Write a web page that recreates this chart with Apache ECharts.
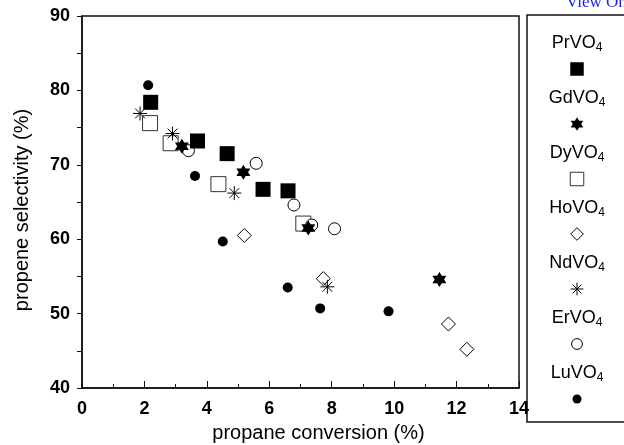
<!DOCTYPE html>
<html>
<head>
<meta charset="utf-8">
<script src="https://cdn.jsdelivr.net/npm/echarts@6/dist/echarts.min.js"></script>
<style>
  html, body { margin: 0; padding: 0; background: #fff; }
  #chart { width: 624px; height: 445px; }
</style>
</head>
<body>
<div id="chart"></div>
<script>
// propane conversion (%) / propene selectivity (%) pairs
const prvo4 = [[2.2, 78.4], [3.7, 73.2], [4.65, 71.5], [5.8, 66.7], [6.6, 66.5]];
const gdvo4 = [[3.2, 72.5], [5.17, 69.0], [7.25, 61.5], [11.45, 54.6]];
const dyvo4 = [[2.18, 75.6], [2.84, 72.9], [4.37, 67.4], [7.09, 62.1]];
const hovo4 = [[5.2, 60.5], [7.73, 54.7], [11.74, 48.6], [12.33, 45.2]];
const ndvo4 = [[1.86, 76.9], [2.9, 74.2], [4.88, 66.2], [7.86, 53.6]];
const ervo4 = [[3.41, 71.9], [5.58, 70.2], [6.79, 64.6], [7.36, 61.9], [8.09, 61.4]];
const luvo4 = [[2.12, 80.7], [3.62, 68.5], [4.51, 59.7], [6.59, 53.5], [7.63, 50.7], [9.82, 50.3]];

const legendNames = ["PrVO", "GdVO", "DyVO", "HoVO", "NdVO", "ErVO", "LuVO"];
const xTicks = [0, 2, 4, 6, 8, 10, 12, 14];
const yTicks = [40, 50, 60, 70, 80, 90];

// unit shapes, also reused for the legend
const hexPts = [[0, -1], [0.2887, -0.5], [0.866, -0.5], [0.5774, 0], [0.866, 0.5], [0.2887, 0.5],
  [0, 1], [-0.2887, 0.5], [-0.866, 0.5], [-0.5774, 0], [-0.866, -0.5], [-0.2887, -0.5]];
const starArms = [[0, -1, 0, 1], [-1, 0, 1, 0], [-0.7, -0.7, 0.7, 0.7], [-0.7, 0.7, 0.7, -0.7]];

const hexagram = "path://M" + hexPts.map(function (p) { return p[0] + "," + p[1]; }).join("L") + "Z";
const asterisk = "path://" + starArms.map(function (a) { return "M" + a[0] + "," + a[1] + "L" + a[2] + "," + a[3]; }).join("");

// marker look for each compound
const markers = {
  PrVO: { data: prvo4, kind: "rect", symbol: "rect", size: [15, 15], fill: "#000", stroke: "#000", width: 0 },
  GdVO: { data: gdvo4, kind: "hex", symbol: hexagram, size: [14, 15], fill: "#000", stroke: "#000", width: 0 },
  DyVO: { data: dyvo4, kind: "rect", symbol: "rect", size: [15, 15], fill: "#fff", stroke: "#333", width: 1 },
  HoVO: { data: hovo4, kind: "diamond", symbol: "diamond", size: [14, 14], fill: "#fff", stroke: "#000", width: 1 },
  NdVO: { data: ndvo4, kind: "star", symbol: asterisk, size: [14, 14], fill: "none", stroke: "#000", width: 1 },
  ErVO: { data: ervo4, kind: "circle", symbol: "circle", size: [12, 12], fill: "#fff", stroke: "#000", width: 1 },
  LuVO: { data: luvo4, kind: "circle", symbol: "circle", size: [10, 10], fill: "#000", stroke: "#000", width: 0 },
};
// drawing order (later on top)
const drawOrder = ["DyVO", "HoVO", "ErVO", "PrVO", "GdVO", "NdVO", "LuVO"];

const font = "Liberation Sans, Arial, sans-serif";

const series = drawOrder.map(function (k) {
  const m = markers[k];
  return {
    name: k + "4",
    type: "scatter",
    data: m.data,
    symbol: m.symbol,
    symbolSize: m.size,
    itemStyle: { color: m.fill, borderColor: m.stroke, borderWidth: m.width, opacity: 1 },
    emphasis: { disabled: true },
  };
});

// legend box drawn as graphic: label above marker
const legendX = 577;
const legendItems = [];
legendNames.forEach(function (k, i) {
  const m = markers[k];
  const ty = 43 + i * 55;
  const my = ty + 26;
  legendItems.push({
    type: "text",
    x: legendX,
    y: ty,
    style: {
      text: "{a|" + k + "}{s|4}",
      align: "center",
      verticalAlign: "middle",
      rich: {
        a: { fontFamily: font, fontSize: 18, fill: "#000" },
        s: { fontFamily: font, fontSize: 12, fill: "#000", padding: [9, 0, 0, 0] },
      },
    },
  });
  const hw = m.size[0] * 0.45, hh = m.size[1] * 0.45;
  const st = { fill: m.fill === "none" ? null : m.fill, stroke: m.stroke, lineWidth: m.width };
  if (m.kind === "rect") {
    legendItems.push({ type: "rect", shape: { x: legendX - hw, y: my - hh, width: hw * 2, height: hh * 2 }, style: st });
  } else if (m.kind === "circle") {
    legendItems.push({ type: "circle", shape: { cx: legendX, cy: my, r: hw }, style: st });
  } else if (m.kind === "diamond") {
    legendItems.push({
      type: "polygon",
      shape: { points: [[legendX, my - hh], [legendX + hw, my], [legendX, my + hh], [legendX - hw, my]] },
      style: st,
    });
  } else if (m.kind === "hex") {
    legendItems.push({
      type: "polygon",
      shape: { points: hexPts.map(function (p) { return [legendX + p[0] / 0.866 * hw, my + p[1] * hh]; }) },
      style: st,
    });
  } else {
    starArms.forEach(function (a) {
      legendItems.push({
        type: "line",
        shape: { x1: legendX + a[0] * hw, y1: my + a[1] * hh, x2: legendX + a[2] * hw, y2: my + a[3] * hh },
        style: { stroke: m.stroke, lineWidth: 1 },
      });
    });
  }
});

const chart = echarts.init(document.getElementById("chart"));
chart.setOption({
  animation: false,
  backgroundColor: "#fff",
  grid: {
    left: 82, right: 105, top: 16, bottom: 57,
    outerBoundsMode: "none",
    show: true, borderColor: "#111", borderWidth: 1.5,
  },
  xAxis: {
    type: "value",
    min: xTicks[0], max: xTicks[xTicks.length - 1], interval: 2,
    name: "propane conversion (%)",
    nameLocation: "middle",
    nameGap: 35,
    nameTextStyle: { fontFamily: font, fontSize: 20, color: "#000", padding: [0, 0, 0, 36] },
    axisLine: { onZero: false, lineStyle: { color: "#111", width: 1.5 } },
    axisTick: { inside: true, length: 7, lineStyle: { color: "#111" } },
    minorTick: { show: true, splitNumber: 2, length: 4, lineStyle: { color: "#111" } },
    axisLabel: { fontFamily: font, fontSize: 18, fontWeight: "bold", color: "#000", margin: 12 },
    splitLine: { show: false },
  },
  yAxis: {
    type: "value",
    min: yTicks[0], max: yTicks[yTicks.length - 1], interval: 10,
    name: "propene selectivity (%)",
    nameLocation: "middle",
    nameGap: 50,
    nameTextStyle: { fontFamily: font, fontSize: 20, color: "#000", padding: [0, 16, 0, 0] },
    axisLine: { onZero: false, lineStyle: { color: "#111", width: 1.5 } },
    axisTick: { inside: false, length: 5, lineStyle: { color: "#111" } },
    minorTick: { show: true, splitNumber: 2, length: 5, lineStyle: { color: "#111" } },
    axisLabel: { fontFamily: font, fontSize: 18, fontWeight: "bold", color: "#000", margin: 12 },
    splitLine: { show: false },
  },
  graphic: [
    {
      type: "rect",
      shape: { x: 527, y: 15, width: 130, height: 407 },
      style: { fill: null, stroke: "#111", lineWidth: 1.5 },
    },
    {
      type: "text",
      x: 566, y: -6,
      style: { text: "View Online", fontFamily: "Liberation Serif, serif", fontSize: 17, fill: "#1a1aff" },
    },
  ].concat(legendItems),
  series: series,
});
</script>
</body>
</html>
